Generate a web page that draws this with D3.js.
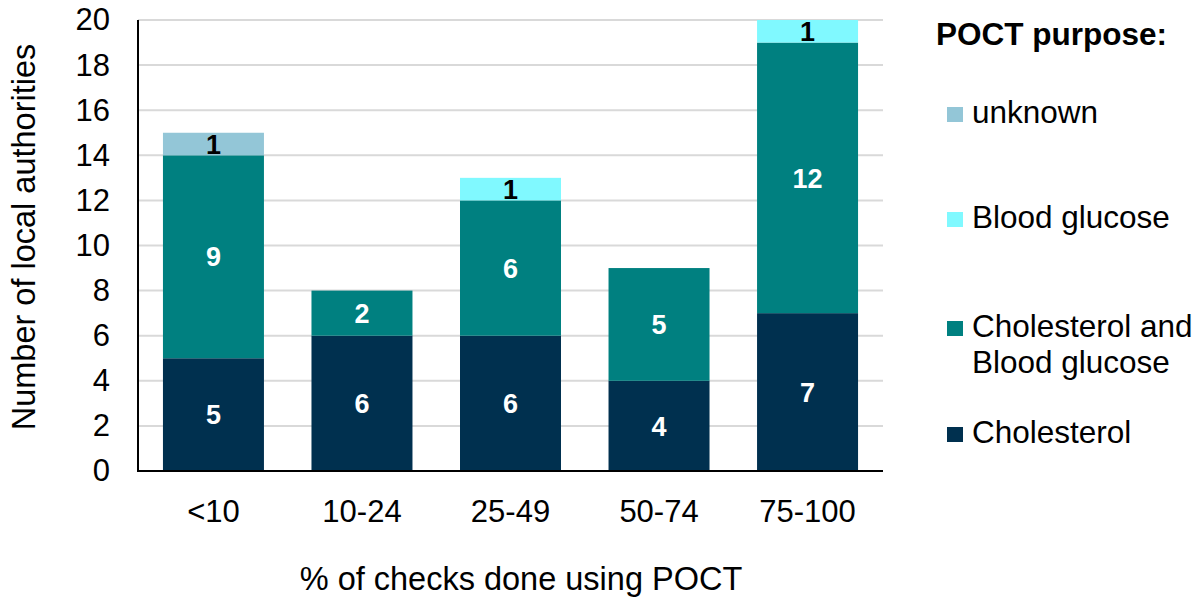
<!DOCTYPE html>
<html>
<head>
<meta charset="utf-8">
<script src="https://cdn.jsdelivr.net/npm/d3@7"></script>
<style>
  body { margin: 0; background: #fff; }
  svg { display: block; font-family: "Liberation Sans", Arial, sans-serif; }
</style>
</head>
<body>
<svg id="chart" width="1202" height="605"></svg>
<script>
// values
var categories = ["<10", "10-24", "25-49", "50-74", "75-100"];
var cholesterol = [5, 6, 6, 4, 7];
var cholGlucose = [9, 2, 6, 5, 12];
var bloodGlucose = [0, 0, 1, 0, 1];
var unknown = [1, 0, 0, 0, 0];
var seriesKeys = ["Cholesterol", "Cholesterol and Blood glucose", "Blood glucose", "unknown"];
var seriesColors = ["#00304f", "#008080", "#80f9ff", "#93c6d7"];
var labelColors = ["#fff", "#fff", "#000", "#000"];
var yTicks = [0, 2, 4, 6, 8, 10, 12, 14, 16, 18, 20];

var rows = categories.map(function(c, i) {
    var r = {cat: c};
    r[seriesKeys[0]] = cholesterol[i];
    r[seriesKeys[1]] = cholGlucose[i];
    r[seriesKeys[2]] = bloodGlucose[i];
    r[seriesKeys[3]] = unknown[i];
    return r;
});

var svg = d3.select("#chart"),
    plotL = 138, plotR = 883, plotT = 20, plotB = 471;

var x = d3.scaleBand().domain(categories).range([plotL, plotR])
        .paddingInner(0.32).paddingOuter(0.168),
    y = d3.scaleLinear().domain([0, 20]).range([plotB, plotT]),
    color = d3.scaleOrdinal().domain(seriesKeys).range(seriesColors);

// gridlines
svg.append("g")
    .selectAll("line")
    .data(yTicks.filter(function(d) { return d > 0; }))
    .enter().append("line")
    .attr("x1", plotL).attr("x2", plotR)
    .attr("y1", function(d) { return y(d); })
    .attr("y2", function(d) { return y(d); })
    .attr("stroke", "#d9d9d9")
    .attr("stroke-width", 2);

var layers = d3.stack().keys(seriesKeys)(rows);

var layer = svg.selectAll(".layer")
    .data(layers)
    .enter().append("g")
    .attr("class", "layer")
    .attr("fill", function(d) { return color(d.key); });

layer.selectAll("rect")
    .data(function(d) { return d.filter(function(p) { return p[1] - p[0] > 0; }); })
    .enter().append("rect")
    .attr("x", function(d) { return x(d.data.cat); })
    .attr("y", function(d) { return y(d[1]); })
    .attr("height", function(d) { return y(d[0]) - y(d[1]); })
    .attr("width", x.bandwidth());

// value labels
layers.forEach(function(l, j) {
    svg.append("g")
        .selectAll("text")
        .data(l.filter(function(p) { return p[1] - p[0] > 0; }))
        .enter().append("text")
        .attr("x", function(d) { return x(d.data.cat) + x.bandwidth() / 2; })
        .attr("y", function(d) { return y((d[0] + d[1]) / 2); })
        .attr("dy", "0.36em")
        .attr("text-anchor", "middle")
        .attr("font-size", 27)
        .attr("font-weight", "bold")
        .attr("fill", labelColors[j])
        .text(function(d) { return d[1] - d[0]; });
});

// axes
var yAxis = d3.axisLeft(y).tickValues(yTicks).tickSize(0).tickPadding(28);
var gy = svg.append("g").attr("transform", "translate(" + plotL + ",0)").call(yAxis);
gy.select(".domain").remove();
gy.selectAll("text").attr("font-size", 31).attr("fill", "#000").attr("font-family", null);

var xAxis = d3.axisBottom(x).tickSize(0).tickPadding(29);
var gx = svg.append("g").attr("transform", "translate(0," + plotB + ")").call(xAxis);
gx.select(".domain").remove();
gx.selectAll("text").attr("font-size", 31).attr("fill", "#000").attr("font-family", null);

svg.append("line").attr("x1", plotL).attr("x2", plotL).attr("y1", plotT).attr("y2", plotB)
    .attr("stroke", "#000").attr("stroke-width", 2);
svg.append("line").attr("x1", plotL - 1).attr("x2", plotR).attr("y1", plotB).attr("y2", plotB)
    .attr("stroke", "#000").attr("stroke-width", 2);

// axis titles
svg.append("text")
    .attr("transform", "translate(35,237) rotate(-90)")
    .attr("text-anchor", "middle")
    .attr("font-size", 32.5)
    .text("Number of local authorities");

svg.append("text")
    .attr("x", 521).attr("y", 590)
    .attr("text-anchor", "middle")
    .attr("font-size", 32.5)
    .text("% of checks done using POCT");

// legend
var legend = svg.append("g");
legend.append("text")
    .attr("x", 936).attr("y", 45)
    .attr("font-size", 31.5).attr("font-weight", "bold")
    .text("POCT purpose:");

var legendItems = [
    {key: "unknown", lines: ["unknown"]},
    {key: "Blood glucose", lines: ["Blood glucose"]},
    {key: "Cholesterol and Blood glucose", lines: ["Cholesterol and", "Blood glucose"]},
    {key: "Cholesterol", lines: ["Cholesterol"]}
];
var legendBase = [123, 228, 337, 443];

legendItems.forEach(function(it, i) {
    var g = legend.append("g");
    g.append("rect")
        .attr("x", 947).attr("y", legendBase[i] - 16)
        .attr("width", 16).attr("height", 15)
        .attr("fill", color(it.key));
    var t = g.append("text")
        .attr("x", 972).attr("y", legendBase[i])
        .attr("font-size", 31.5);
    it.lines.forEach(function(s, k) {
        t.append("tspan").attr("x", 972).attr("dy", k === 0 ? 0 : 36).text(s);
    });
});
</script>
</body>
</html>
